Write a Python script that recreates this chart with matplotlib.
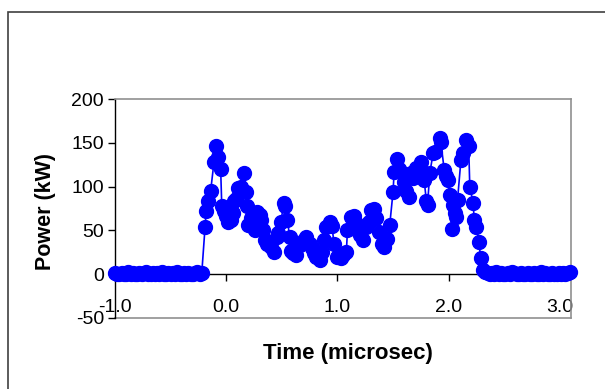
import matplotlib
matplotlib.use("Agg")
import matplotlib.pyplot as plt
from matplotlib.patches import Rectangle

# ---- data ----
pre_t = [-1.00, -0.98, -0.96, -0.94, -0.92, -0.90, -0.88, -0.86, -0.84, -0.82,
         -0.80, -0.78, -0.76, -0.74, -0.72, -0.70, -0.68, -0.66, -0.64, -0.62,
         -0.60, -0.58, -0.56, -0.54, -0.52, -0.50, -0.48, -0.46, -0.44, -0.42,
         -0.40, -0.38, -0.36, -0.34, -0.32, -0.30, -0.28, -0.26, -0.24, -0.22]
pre_p = [1, 0, 0, 1, 0, 0, 2, 0, 1, 0,
         0, 1, 0, 1, 2, 0, 0, 1, 0, 1,
         0, 2, 0, 0, 1, 0, 1, 0, 2, 0,
         0, 1, 0, 1, 0, 0, 1, 2, 0, 1]

pulse_t = [-0.19, -0.18, -0.16, -0.14, -0.11, -0.09, -0.07, -0.05, -0.04, -0.02,
           0.00, 0.02, 0.04, 0.06, 0.07, 0.09, 0.11, 0.13, 0.16, 0.18,
           0.19, 0.20, 0.22, 0.24, 0.26, 0.28, 0.30, 0.31, 0.33, 0.35,
           0.37, 0.40, 0.43, 0.46, 0.47, 0.49, 0.52, 0.53, 0.55, 0.57,
           0.58, 0.60, 0.63, 0.66, 0.70, 0.72, 0.75, 0.77, 0.79, 0.81,
           0.84, 0.86, 0.88, 0.90, 0.93, 0.95, 0.97, 1.00, 1.03, 1.05,
           1.08, 1.09, 1.12, 1.15, 1.17, 1.18, 1.20, 1.23, 1.26, 1.28,
           1.30, 1.33, 1.35, 1.37, 1.40, 1.42, 1.45, 1.47, 1.50, 1.51,
           1.54, 1.55, 1.57, 1.60, 1.62, 1.64, 1.66, 1.68, 1.71, 1.73,
           1.75, 1.77, 1.78, 1.80, 1.81, 1.83, 1.86, 1.88, 1.92, 1.93,
           1.96, 1.98, 1.99, 2.01, 2.03, 2.04, 2.06, 2.07, 2.08, 2.11,
           2.13, 2.16, 2.18, 2.19, 2.22, 2.23, 2.25, 2.27, 2.29, 2.31]
pulse_p = [54, 72, 84, 95, 128, 146, 134, 120, 78, 72,
           67, 60, 62, 70, 83, 86, 98, 100, 116, 94,
           78, 56, 64, 54, 50, 71, 68, 62, 50, 39,
           35, 31, 25, 43, 47, 60, 81, 78, 62, 43,
           27, 24, 22, 33, 39, 43, 35, 30, 24, 20,
           16, 25, 39, 54, 60, 55, 35, 20, 18, 22,
           25, 50, 65, 67, 58, 50, 45, 39, 54, 60,
           73, 75, 64, 48, 35, 31, 40, 56, 94, 117,
           132, 120, 117, 105, 95, 88, 115, 110, 121, 118,
           128, 115, 107, 83, 79, 115, 138, 140, 155, 151,
           119, 112, 107, 90, 52, 79, 70, 65, 85, 130,
           138, 153, 146, 100, 81, 62, 54, 37, 18, 5]

post_t = [2.33, 2.35, 2.37, 2.39, 2.41, 2.43, 2.45, 2.47, 2.49, 2.51,
          2.53, 2.55, 2.57, 2.59, 2.61, 2.63, 2.65, 2.67, 2.69, 2.71,
          2.73, 2.75, 2.77, 2.79, 2.81, 2.83, 2.85, 2.87, 2.89, 2.91,
          2.93, 2.95, 2.97, 2.99, 3.01, 3.03, 3.05, 3.07, 3.09]
post_p = [2, 1, 0, 1, 0, 2, 0, 1, 0, 0,
          1, 0, 2, 1, 0, 0, 1, 0, 0, 1,
          0, 0, 1, 0, 0, 2, 0, 1, 0, 0,
          1, 0, 0, 1, 0, 1, 0, 1, 2]

time_us = pre_t + pulse_t + post_t
power_kw = pre_p + pulse_p + post_p

y_ticks = [-50, 0, 50, 100, 150, 200]
x_ticks = [-1.0, 0.0, 1.0, 2.0, 3.0]
x_tick_labels = ["-1.0", "0.0", "1.0", "2.0", "3.0"]

# ---- figure ----
W, H = 605, 389
fig = plt.figure(figsize=(W / 100, H / 100), dpi=100)
plt.rcParams['font.family'] = ['Liberation Sans', 'DejaVu Sans']

# outer chart frame
fig.patches.append(Rectangle((7.5 / W, -0.1), 1.2, 1 - 12.5 / H + 0.1,
                             transform=fig.transFigure, fill=False,
                             edgecolor='#404040', linewidth=1.2))

ax = fig.add_axes([115 / W, 1 - 318 / H, (571 - 115) / W, (318 - 99) / H])
ax.set_xlim(-1.0, 3.1)
ax.set_ylim(-50, 200)

ax.plot(time_us, power_kw, color='#0000FF', linewidth=1.2, marker='o',
        markersize=10, markerfacecolor='#0000FF', markeredgecolor='#0000FF',
        clip_on=False, zorder=5)

# spines
ax.spines['bottom'].set_position(('data', 0))
ax.spines['bottom'].set_color('black')
ax.spines['bottom'].set_linewidth(1.0)
ax.spines['left'].set_color('black')
ax.spines['left'].set_linewidth(1.0)
for s in ('top', 'right'):
    ax.spines[s].set_color('#909090')
    ax.spines[s].set_linewidth(1.2)
ax.axhline(-50, color='#909090', linewidth=1.2, clip_on=False, zorder=1)

ax.set_yticks(y_ticks)
ax.set_yticklabels([str(v) for v in y_ticks])
ax.set_xticks(x_ticks)
ax.set_xticklabels(x_tick_labels)
ax.tick_params(axis='y', direction='out', length=5, width=1, pad=3,
               labelsize=14, colors='black')
ax.tick_params(axis='x', direction='out', length=5, width=1, pad=13,
               labelsize=14, colors='black')

fig.text(45 / W, 1 - 212 / H, "Power (kW)", rotation=90, ha='center',
         va='center', fontsize=15.5, fontweight='bold')
fig.text(348 / W, 1 - 353 / H, "Time (microsec)", ha='center',
         va='center', fontsize=16, fontweight='bold')

fig.savefig("out.png", dpi=100)
